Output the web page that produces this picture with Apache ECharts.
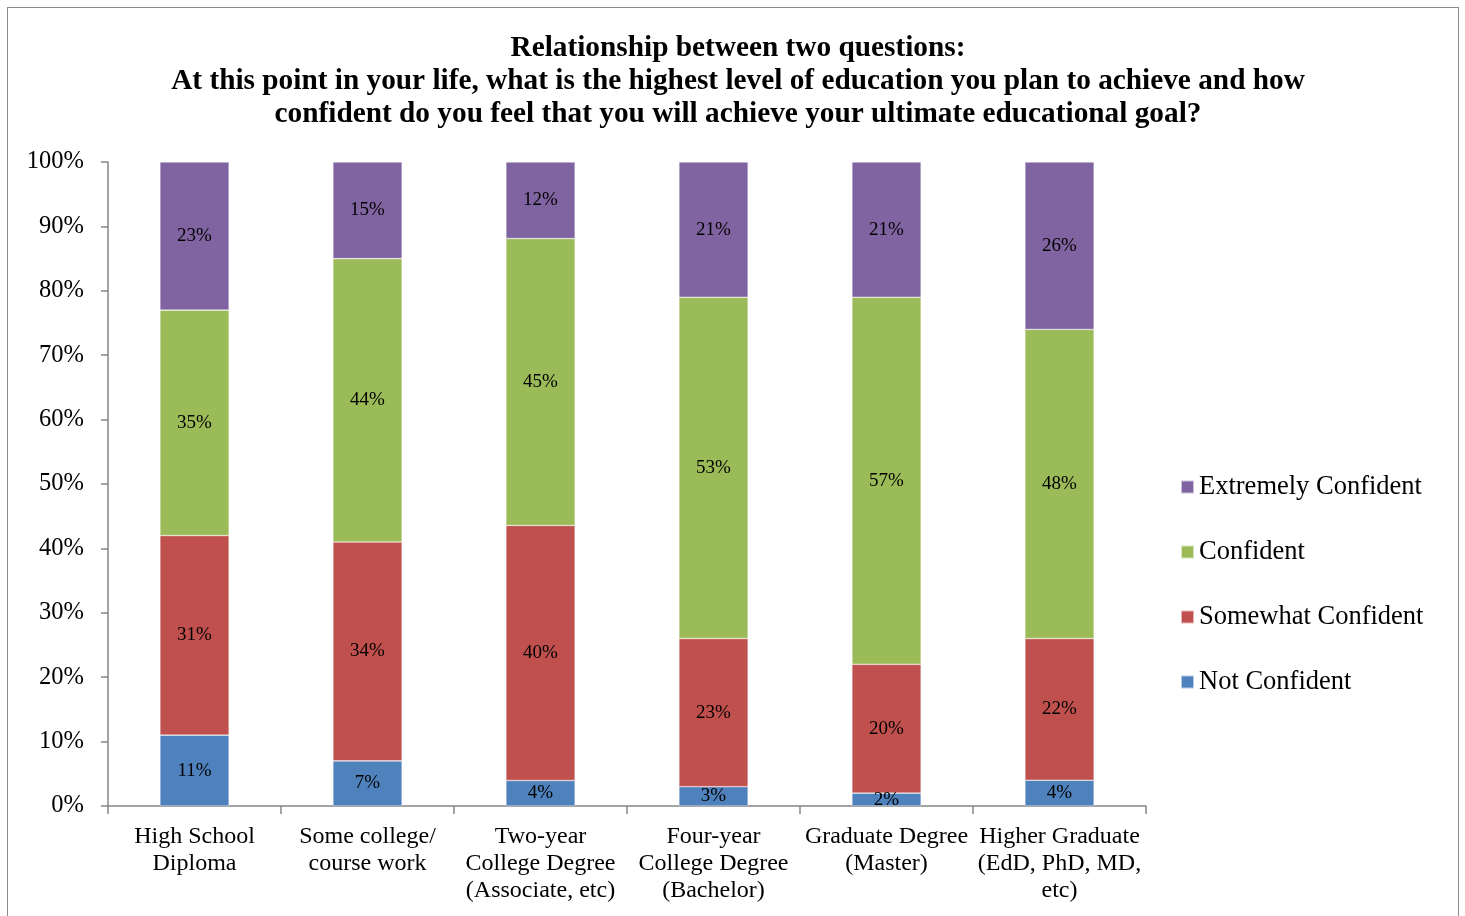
<!DOCTYPE html>
<html>
<head>
<meta charset="utf-8">
<script src="https://cdn.jsdelivr.net/npm/echarts@6/dist/echarts.min.js"></script>
<style>
  html, body { margin: 0; padding: 0; background: #fff; }
  #frame { position: absolute; left: 7px; top: 7px; width: 1452px; height: 920px; border: 1.5px solid #8c8c8c; box-sizing: border-box; }
  #chart { position: absolute; left: 0; top: 0; width: 1465px; height: 916px; }
</style>
</head>
<body>
<div id="frame"></div>
<div id="chart"></div>
<script>
// Planned education level (categories) and reported confidence shares, in percent
const categories = [
  'High School\nDiploma',
  'Some college/\ncourse work',
  'Two-year\nCollege Degree\n(Associate, etc)',
  'Four-year\nCollege Degree\n(Bachelor)',
  'Graduate Degree\n(Master)',
  'Higher Graduate\n(EdD, PhD, MD,\netc)'
];
const notConfident       = [11, 7, 4, 3, 2, 4];
const somewhatConfident  = [31, 34, 40, 23, 20, 22];
const confident          = [35, 44, 45, 53, 57, 48];
const extremelyConfident = [23, 15, 12, 21, 21, 26];
const yTicks = [0, 10, 20, 30, 40, 50, 60, 70, 80, 90, 100];

const serif = '"Liberation Serif", "Times New Roman", serif';

// 100% stacking: each column is scaled by its own total, labels keep the stated value
const totals = categories.map((_, i) =>
  notConfident[i] + somewhatConfident[i] + confident[i] + extremelyConfident[i]);

function makeSeries(name, values, color) {
  return {
    name: name,
    type: 'bar',
    stack: 'share',
    barWidth: '40%',
    itemStyle: { color: color, borderColor: 'rgba(255,255,255,0.6)', borderWidth: 0.6 },
    label: {
      show: true,
      position: 'inside',
      fontFamily: serif,
      fontSize: 19,
      color: '#000',
      formatter: p => values[p.dataIndex] + '%'
    },
    data: values.map((v, i) => v / totals[i] * 100)
  };
}

const chart = echarts.init(document.getElementById('chart'), null, { renderer: 'canvas' });
chart.setOption({
  animation: false,
  title: {
    text: 'Relationship between two questions:\nAt this point in your life, what is the highest level of education you plan to achieve and how\nconfident do you feel that you will achieve your ultimate educational goal?',
    left: 733,
    textAlign: 'center',
    top: 27,
    textStyle: { fontFamily: serif, fontWeight: 'bold', fontSize: 29.3, lineHeight: 33, color: '#000' }
  },
  legend: {
    orient: 'vertical',
    left: 1180,
    top: 473,
    padding: 0,
    itemWidth: 13,
    itemHeight: 13,
    itemGap: 37,
    icon: 'rect',
    textStyle: { fontFamily: serif, fontSize: 26.5, color: '#000', lineHeight: 28, padding: [0, 0, 0, 0] },
    data: ['Extremely Confident', 'Confident', 'Somewhat Confident', 'Not Confident']
  },
  grid: { left: 108, right: 319, top: 162, bottom: 110, containLabel: false },
  xAxis: {
    type: 'category',
    data: categories,
    axisLine: { lineStyle: { color: '#868686', width: 1.5 } },
    axisTick: { show: true, alignWithLabel: false, length: 8, lineStyle: { color: '#868686', width: 1.5 } },
    axisLabel: { fontFamily: serif, fontSize: 24, color: '#000', lineHeight: 27, margin: 17, interval: 0 }
  },
  yAxis: {
    type: 'value',
    min: 0,
    max: 100,
    interval: 10,
    axisLine: { show: true, lineStyle: { color: '#868686', width: 1.5 } },
    axisTick: { show: true, length: 7, lineStyle: { color: '#868686', width: 1.5 } },
    splitLine: { show: false },
    axisLabel: {
      fontFamily: serif, fontSize: 24.5, color: '#000', margin: 24,
      formatter: v => (yTicks.includes(v) ? v + '%' : '')
    }
  },
  series: [
    makeSeries('Not Confident', notConfident, '#4F81BD'),
    makeSeries('Somewhat Confident', somewhatConfident, '#C0504D'),
    makeSeries('Confident', confident, '#9BBB59'),
    makeSeries('Extremely Confident', extremelyConfident, '#8064A2')
  ]
});
</script>
</body>
</html>
